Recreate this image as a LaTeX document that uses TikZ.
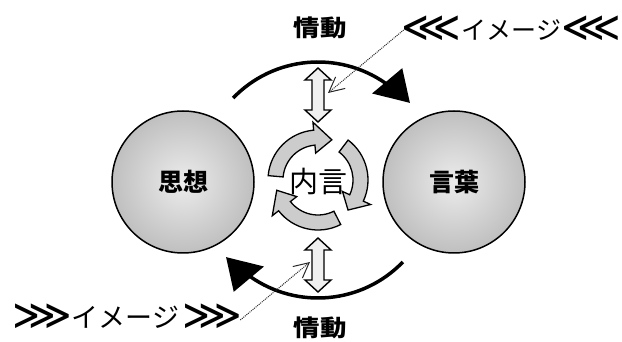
\documentclass[tikz,border=0pt]{standalone}
\usepackage{fontspec}
\newfontfamily\jp{Noto Sans CJK JP}
\newfontfamily\dv{DejaVu Sans}
\usetikzlibrary{arrows.meta,calc}
\newcommand{\chevL}{\raisebox{-2pt}{\scalebox{1.75}[1.75]{\dv\fontsize{24}{24}\selectfont ⋘}}}
\newcommand{\chevR}{\raisebox{-2pt}{\scalebox{1.75}[1.75]{\dv\fontsize{24}{24}\selectfont ⋙}}}
\begin{document}
\begin{tikzpicture}[x=1pt,y=1pt,
  ball/.style={circle, draw=black, line width=1.5pt, minimum size=142pt, inner sep=0pt, shading=radial, inner color=gray!15, outer color=gray!50},
  ringarrow/.style={draw=black, line width=1.3pt, fill=gray!40},
  bigarrow/.style={line width=3.5pt},
  dblarrow/.style={draw=black, line width=1.4pt, fill=gray!12},
  dotline/.style={densely dotted, line width=1pt, black!85, -{Straight Barb[length=15pt,width=15pt,line width=1pt]}},
  dbl/.pic={\draw[dblarrow] (0,27) -- (-13,15) -- (-6,15) -- (-6,-15) -- (-13,-15) -- (0,-27) -- (13,-15) -- (6,-15) -- (6,15) -- (13,15) -- cycle;},
  lbl/.style={inner sep=0pt, font=\jp\bfseries\fontsize{25}{25}\selectfont},
]
\useasboundingbox (0,0) rectangle (622,342);
\coordinate (C) at (318,162);
% spheres
\node[ball] (shiso) at (183,160) {};
\node[lbl] at (shiso) {思想};
\node[ball] (kotoba) at (454,160) {};
\node[lbl] at (kotoba) {言葉};
% inner speech cycle
\node[inner sep=0pt, font=\jp\fontsize{29}{29}\selectfont] (naigen) at (318,160) {内言};
\begin{scope}[shift={(C)}]
\draw[ringarrow] (175:50) arc[start angle=175,end angle=95,radius=50] -- (95:58) -- (71:42.5) -- (95:27) -- (95:35) arc[start angle=95,end angle=175,radius=35] -- cycle;
\draw[ringarrow] (53:50) arc[start angle=53,end angle=-25,radius=50] -- (-25:58) -- (-45:42.5) -- (-25:27) -- (-25:35) arc[start angle=-25,end angle=53,radius=35] -- cycle;
\draw[ringarrow] (-63:50) arc[start angle=-63,end angle=-142,radius=50] -- (-142:58) -- (-166:42.5) -- (-142:27) -- (-142:35) arc[start angle=-142,end angle=-63,radius=35] -- cycle;
% big emotion arcs
\draw[bigarrow] (136:118) arc[start angle=136,end angle=55,radius=118];
\fill (53:140) -- (40:120) -- (58:102) -- cycle;
\draw[bigarrow] (-44:118) arc[start angle=-44,end angle=-125,radius=118];
\fill (233:140) -- (220:120) -- (238:102) -- cycle;
\end{scope}
% double arrows
\pic at (318,247) {dbl};
\pic at (318,77) {dbl};
% labels
\node[inner sep=0pt] (jdT) at (320,314) {\scalebox{1.15}[1]{\jp\bfseries\fontsize{23}{23}\selectfont 情動}};
\node[inner sep=0pt] (jdB) at (320,14) {\scalebox{1.15}[1]{\jp\bfseries\fontsize{23}{23}\selectfont 情動}};
\node[anchor=east, inner sep=0pt] (imT) at (621,313) {\chevL{\jp\fontsize{25}{25}\selectfont イメージ}\chevL};
\node[anchor=west, inner sep=0pt] (imB) at (12,25) {\chevR{\jp\fontsize{27}{27}\selectfont イメージ}\hspace{3pt}\chevR};
% image pointers
\coordinate (tipT) at (328,249);
\coordinate (tipB) at (310,80);
\draw[dotline] (imT.west) ++(2,-1) -- (tipT);
\draw[dotline] (imB.east) ++(-2,-3) -- (tipB);
\end{tikzpicture}
\end{document}
